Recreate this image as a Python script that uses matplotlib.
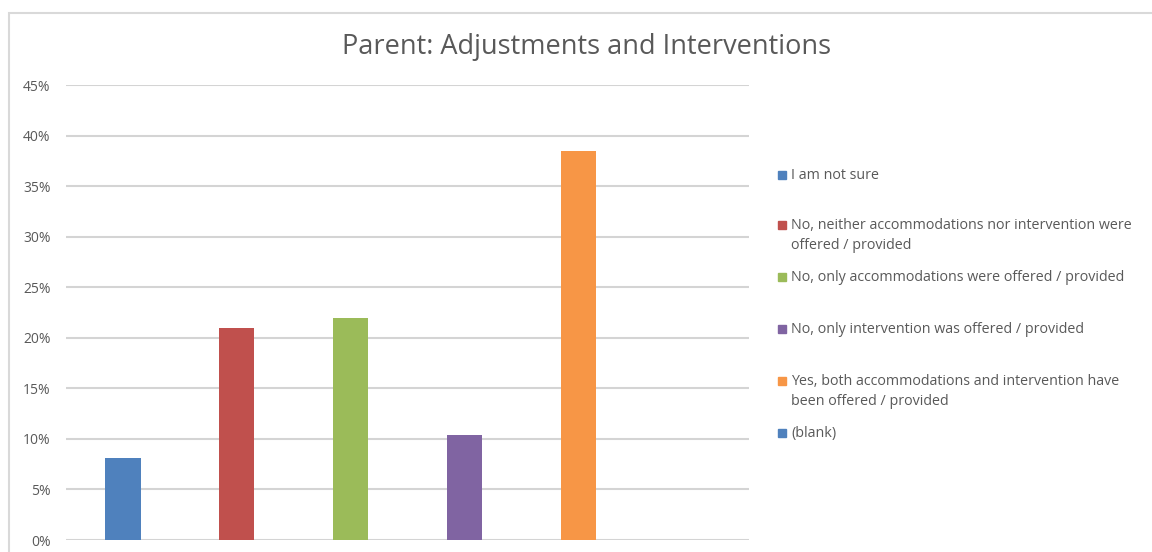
import matplotlib.pyplot as plt
from matplotlib.patches import Rectangle
from matplotlib.ticker import PercentFormatter

plt.rcParams['font.family'] = ['Open Sans', 'DejaVu Sans']

categories = [
    'I am not sure',
    'No, neither accommodations nor intervention were\noffered / provided',
    'No, only accommodations were offered / provided',
    'No, only intervention was offered / provided',
    'Yes, both accommodations and intervention have\nbeen offered / provided',
    '(blank)',
]
values = [8.1, 21.0, 22.0, 10.4, 38.5, 0.0]
colors = ['#4F81BD', '#C0504D', '#9BBB59', '#8064A2', '#F79646', '#4F81BD']
yticks = [0, 5, 10, 15, 20, 25, 30, 35, 40, 45]

W, H = 1152, 552
fig = plt.figure(figsize=(W / 100, H / 100), dpi=100)

# chart frame (right and bottom edges are cut off in the screenshot)
fig.patches.append(Rectangle((9 / W, -0.1), 1.2, 1 - 13 / H + 0.1,
                             transform=fig.transFigure, fill=False,
                             edgecolor='#D9D9D9', lw=1.5))

ax = fig.add_axes([66 / W, 12 / H, (749 - 66) / W, (540 - 85.3) / H])
x = list(range(len(categories)))
ax.bar(x, values, width=0.31, color=colors, zorder=3)
ax.set_xlim(-0.5, len(categories) - 0.5)
ax.set_ylim(0, 45)
ax.set_yticks(yticks)
ax.yaxis.set_major_formatter(PercentFormatter(decimals=0))
ax.grid(axis='y', color='#D4D4D4', lw=1.5, zorder=0)
ax.set_xticks([])
for s in ax.spines.values():
    s.set_visible(False)
ax.tick_params(axis='y', length=0, labelsize=10, labelcolor='#595959', pad=11)

fig.text(587 / W, 1 - 47 / H, 'Parent: Adjustments and Interventions',
         ha='center', va='center', fontsize=19.5, color='#595959')

# legend, one entry per category
leg_y = [175, 225, 277, 329, 381, 433]
for lab, col, yy in zip(categories, colors, leg_y):
    fig.patches.append(Rectangle((778 / W, 1 - (yy + 4) / H), 8 / W, 8 / H,
                                 transform=fig.transFigure, color=col))
    fig.text(791 / W, 1 - (yy - 7) / H, lab, ha='left', va='top',
             fontsize=10.3, color='#595959', linespacing=1.45)

fig.savefig('out.png', dpi=100, facecolor='white')
